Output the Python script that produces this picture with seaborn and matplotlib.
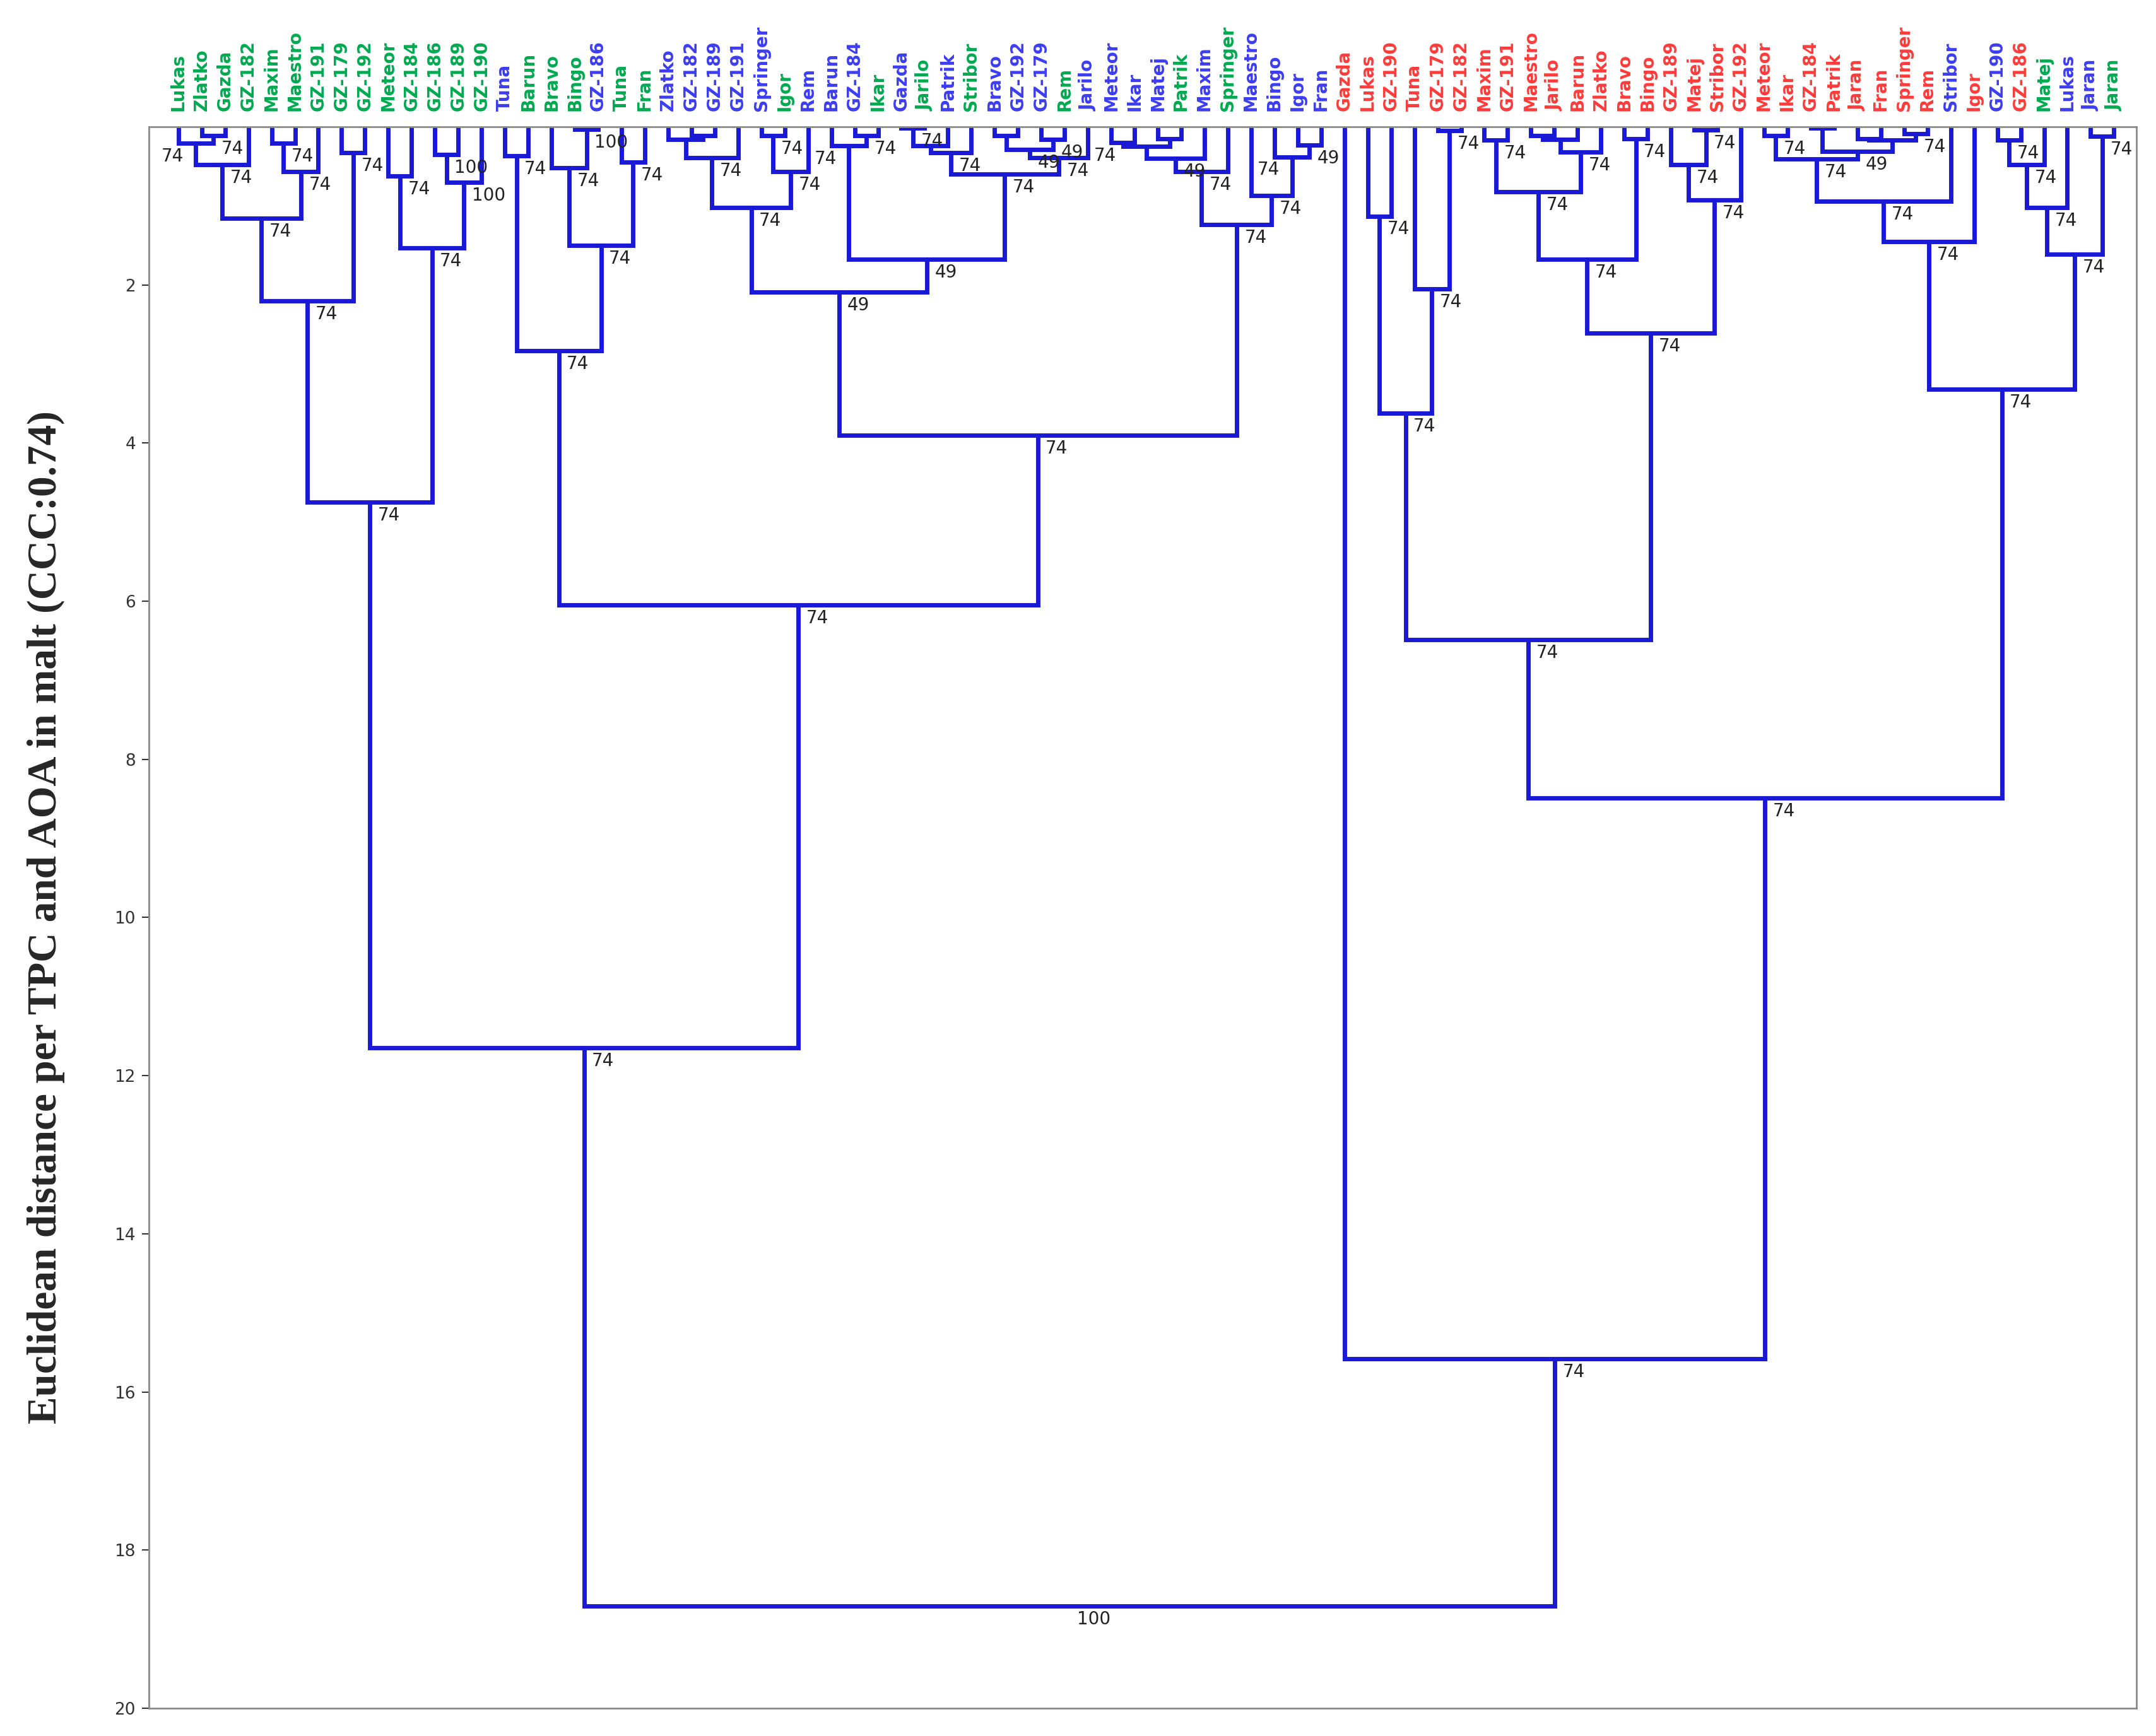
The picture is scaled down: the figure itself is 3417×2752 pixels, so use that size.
import numpy as np
import pandas as pd
import matplotlib
matplotlib.use("Agg")
import matplotlib.pyplot as plt
import seaborn as sns

# leaf labels, left to right
leaf_names = [
    "Lukas", "Zlatko", "Gazda", "GZ-182", "Maxim", "Maestro", "GZ-191", "GZ-179",
    "GZ-192", "Meteor", "GZ-184", "GZ-186", "GZ-189", "GZ-190",
    "Tuna", "Barun", "Bravo", "Bingo", "GZ-186", "Tuna", "Fran",
    "Zlatko", "GZ-182", "GZ-189", "GZ-191", "Springer", "Igor", "Rem",
    "Barun", "GZ-184", "Ikar", "Gazda", "Jarilo", "Patrik", "Stribor",
    "Bravo", "GZ-192", "GZ-179", "Rem",
    "Jarilo", "Meteor", "Ikar", "Matej", "Patrik", "Maxim", "Springer",
    "Maestro", "Bingo", "Igor", "Fran",
    "Gazda", "Lukas", "GZ-190", "Tuna", "GZ-179", "GZ-182", "Maxim", "GZ-191",
    "Maestro", "Jarilo", "Barun", "Zlatko", "Bravo", "Bingo", "GZ-189", "Matej",
    "Stribor", "GZ-192", "Meteor", "Ikar", "GZ-184", "Patrik", "Jaran", "Fran",
    "Springer", "Rem",
    "Stribor", "Igor", "GZ-190", "GZ-186", "Matej", "Lukas", "Jaran", "Jaran",
]
# g = green, b = blue, r = red label
leaf_groups = ("g" * 14 + "bgggbgg" + "bbbbbgb" + "bbgbgbg" + "bbbg"
               + "bbbbgbg" + "bbbb" + "r" * 26 + "brbrgbbg")

# tree: (left, right, distance, bootstrap[, "left" = label beside left branch])
# ints are leaf indices
g_a = ((0, (1, 2, 0.11, 74), 0.21, 74, "left"), 3, 0.48, 74)
g_b = ((4, 5, 0.21, 74), 6, 0.57, 74)
g_d = ((g_a, g_b, 1.16, 74), (7, 8, 0.33, 74), 2.20, 74)
g_e = ((9, 10, 0.62, 74), ((11, 12, 0.35, 100), 13, 0.70, 100), 1.53, 74)
green = (g_d, g_e, 4.75, 74)

tuna = ((14, 15, 0.37, 74),
        ((16, (17, 18, 0.03, 100), 0.52, 74), (19, 20, 0.45, 74), 1.50, 74),
        2.83, 74)

m1 = (((21, (22, 23, 0.11, None), 0.16, None), 24, 0.39, 74),
      ((25, 26, 0.11, 74), 27, 0.57, 74), 1.02, 74)
m2 = ((28, (29, 30, 0.11, 74), 0.24, 74, "left"),
      ((((31, 32, 0.02, 74), 33, 0.24, None), 34, 0.33, 74),
       (((35, 36, 0.11, None), (37, 38, 0.16, 49), 0.29, 49), 39, 0.39, 74),
       0.60, 74),
      1.68, 49)
m3 = (((((40, 41, 0.20, 74, "left"), (42, 43, 0.15, None), 0.25, None), 44, 0.40, 49), 45, 0.57, 74),
      (46, (47, (48, 49, 0.23, 49), 0.38, 74, "left"), 0.87, 74), 1.24, 74)
mixed = ((m1, m2, 2.09, 49), m3, 3.90, 74)

left_side = (green, (tuna, mixed, 6.05, 74), 11.65, 74)

r1 = ((51, 52, 1.13, 74), (53, (54, 55, 0.05, 74), 2.05, 74), 3.62, 74)
r2 = ((((56, 57, 0.17, 74), (((58, 59, 0.11, None), 60, 0.16, None), 61, 0.32, 74), 0.82, 74),
       (62, 63, 0.15, 74), 1.68, 74),
      ((64, (65, 66, 0.04, 74), 0.48, 74), 67, 0.93, 74), 2.61, 74)
r3 = (((((68, 69, 0.11, 74),
          ((70, 71, 0.02, None), ((72, 73, 0.15, None), (74, 75, 0.09, 74), 0.17, None), 0.31, 49),
          0.41, 74), 76, 0.94, 74), 77, 1.45, 74),
      ((((78, 79, 0.17, 74), 80, 0.48, 74), 81, 1.02, 74), (82, 83, 0.12, 74), 1.61, 74),
      3.32, 74)
right_side = (50, ((r1, r2, 6.49, 74), r3, 8.49, 74), 15.58, 74)

tree = (left_side, right_side, 18.71, 100)

y_ticks = [2, 4, 6, 8, 10, 12, 14, 16, 18, 20]
y_label = "Euclidean distance per TPC and AOA in malt (CCC:0.74)"

label_colors = {"g": "#00a94f", "b": "#3c3cf2", "r": "#ff3b3b"}
line_color = "#1a1ad6"

# walk the tree, collect link segments
rows = []
supports = []


def walk(node):
    if isinstance(node, int):
        return float(node), 0.0
    left, right, h, sup = node[:4]
    side = node[4] if len(node) > 4 else "right"
    xl, hl = walk(left)
    xr, hr = walk(right)
    link = len(supports)
    for x, y in [(xl, hl), (xl, h), (xr, h), (xr, hr)]:
        rows.append({"link": link, "x": x, "y": y})
    xm = (xl + xr) / 2
    supports.append((xm, xl, h, sup, side))
    return xm, h


walk(tree)
links = pd.DataFrame(rows)

sns.set_style("white")
plt.rcParams["font.family"] = ["DejaVu Sans"]

fig = plt.figure(figsize=(34.17, 27.52), dpi=100)
ax = fig.add_axes([0.069, 0.016, 0.922, 0.911])

sns.lineplot(data=links, x="x", y="y", units="link", estimator=None, sort=False,
             color=line_color, linewidth=5, solid_joinstyle="miter", ax=ax)

for xm, xl, h, sup, side in supports:
    if sup is None:
        continue
    if side == "left":
        ax.annotate(str(sup), (xl, h), xytext=(6, -5), textcoords="offset points",
                    ha="right", va="top", fontsize=20, color="#222222")
    else:
        ax.annotate(str(sup), (xm, h), xytext=(9, -5), textcoords="offset points",
                    ha="left", va="top", fontsize=20, color="#222222")

ax.set_xlim(-1.27, 83.97)
ax.set_ylim(20, 0)
ax.set_yticks(y_ticks)
ax.set_yticklabels([str(t) for t in y_ticks])
ax.tick_params(axis="y", left=True, length=8, width=1.5, pad=7,
               labelsize=19, colors="#333333")

ax.set_xticks(range(len(leaf_names)))
ax.set_xticklabels(leaf_names, rotation=90, fontsize=20, fontweight="bold")
ax.xaxis.tick_top()
ax.tick_params(axis="x", length=0, pad=18)
for lbl, grp in zip(ax.get_xticklabels(), leaf_groups):
    lbl.set_color(label_colors[grp])

ax.set_xlabel("")
ax.set_ylabel(y_label, fontsize=47, fontweight="bold",
              family=["Liberation Serif", "DejaVu Serif"])
ax.yaxis.set_label_coords(-0.042, 0.5)

for side in ["left", "right", "top", "bottom"]:
    ax.spines[side].set_color("#8a8a8a")
    ax.spines[side].set_linewidth(2)

fig.savefig("out.png", dpi=100)
plt.close(fig)
